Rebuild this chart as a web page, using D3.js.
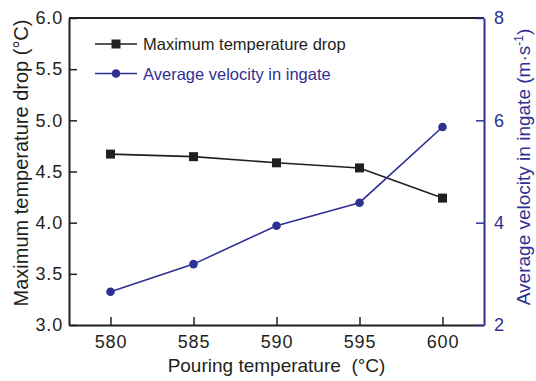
<!DOCTYPE html>
<html>
<head>
<meta charset="utf-8">
<script src="https://cdn.jsdelivr.net/npm/d3@7/dist/d3.min.js"></script>
<style>
  body { margin: 0; background: #fff; }
  text { font-family: "Liberation Sans", Arial, sans-serif; }
</style>
</head>
<body>
<div id="chart"></div>
<script>
// values
const temps = [580, 585, 590, 595, 600];
const tempDrop = [4.67, 4.645, 4.585, 4.535, 4.24];
const velocity = [2.65, 3.19, 3.94, 4.39, 5.87];
const leftTicks = [3.0, 3.5, 4.0, 4.5, 5.0, 5.5, 6.0];
const rightTicks = [2, 4, 6, 8];
const seriesNames = ["Maximum temperature drop", "Average velocity in ingate"];

const width = 536, height = 381;
const margin = {left: 69, right: 52, top: 18, bottom: 56};
const black = "#231f20", blue = "#2e3192";

const svg = d3.select("#chart").append("svg")
  .attr("width", width).attr("height", height);

const x = d3.scaleLinear().domain([577.5, 602.5]).range([margin.left, width - margin.right]);
const yL = d3.scaleLinear().domain([3, 6]).range([height - margin.bottom, margin.top]);
const yR = d3.scaleLinear().domain([2, 8]).range([height - margin.bottom, margin.top]);

// frame top line
svg.append("line")
  .attr("x1", x.range()[0]).attr("x2", x.range()[1])
  .attr("y1", margin.top).attr("y2", margin.top)
  .attr("stroke", black).attr("stroke-width", 2);

function styleAxis(g, color) {
  g.select(".domain").attr("stroke", color).attr("stroke-width", 2);
  g.selectAll(".tick line").attr("stroke", color).attr("stroke-width", 1.5);
  g.selectAll(".tick text").attr("fill", color).attr("font-size", 18).attr("letter-spacing", 0.8);
}

svg.append("g")
  .attr("transform", `translate(0,${height - margin.bottom})`)
  .call(d3.axisBottom(x).tickValues(temps).tickSizeInner(-8).tickSizeOuter(0).tickPadding(10))
  .call(g => styleAxis(g, black));

svg.append("g")
  .attr("transform", `translate(${margin.left},0)`)
  .call(d3.axisLeft(yL).tickValues(leftTicks).tickFormat(d3.format(".1f")).tickSizeInner(-8).tickSizeOuter(0).tickPadding(6))
  .call(g => styleAxis(g, black));

svg.append("g")
  .attr("transform", `translate(${width - margin.right},0)`)
  .call(d3.axisRight(yR).tickValues(rightTicks).tickFormat(d3.format("d")).tickSizeInner(-8).tickSizeOuter(0).tickPadding(10))
  .call(g => styleAxis(g, blue));

// axis titles
svg.append("text")
  .attr("x", (x.range()[0] + x.range()[1]) / 2).attr("y", 372)
  .attr("text-anchor", "middle").attr("font-size", 19).attr("fill", black)
  .style("white-space", "pre")
  .text("Pouring temperature  (°C)");

svg.append("text")
  .attr("transform", `translate(28,163) rotate(-90)`)
  .attr("text-anchor", "middle").attr("font-size", 20).attr("fill", black)
  .text("Maximum temperature drop (°C)");

const rt = svg.append("text")
  .attr("transform", `translate(530,167) rotate(-90)`)
  .attr("text-anchor", "middle").attr("font-size", 19).attr("fill", blue);
rt.append("tspan").text("Average velocity in ingate (m·s");
rt.append("tspan").attr("dy", -7).attr("font-size", 12).text("-1");
rt.append("tspan").attr("dy", 7).text(")");

// series
const lineL = d3.line().x((d, i) => x(temps[i])).y(d => yL(d));
const lineR = d3.line().x((d, i) => x(temps[i])).y(d => yR(d));

svg.append("path").datum(tempDrop)
  .attr("d", lineL).attr("fill", "none").attr("stroke", black).attr("stroke-width", 1.6);
svg.append("g").selectAll("rect").data(tempDrop).join("rect")
  .attr("x", (d, i) => x(temps[i]) - 4.5).attr("y", d => yL(d) - 4.5)
  .attr("width", 9).attr("height", 9).attr("fill", black);

svg.append("path").datum(velocity)
  .attr("d", lineR).attr("fill", "none").attr("stroke", blue).attr("stroke-width", 1.6);
svg.append("g").selectAll("circle").data(velocity).join("circle")
  .attr("cx", (d, i) => x(temps[i])).attr("cy", d => yR(d))
  .attr("r", 4.3).attr("fill", blue);

// legend
const legend = svg.append("g");
[black, blue].forEach((c, i) => {
  const ly = 44 + i * 29.5;
  const g = legend.append("g");
  g.append("line").attr("x1", 95).attr("x2", 137).attr("y1", ly).attr("y2", ly)
    .attr("stroke", c).attr("stroke-width", 1.6);
  if (i === 0) {
    g.append("rect").attr("x", 111.5).attr("y", ly - 4.5).attr("width", 9).attr("height", 9).attr("fill", c);
  } else {
    g.append("circle").attr("cx", 116).attr("cy", ly).attr("r", 4.3).attr("fill", c);
  }
  g.append("text").attr("x", 143).attr("y", ly + 6).attr("font-size", 16.5).attr("fill", c)
    .text(seriesNames[i]);
});
</script>
</body>
</html>
